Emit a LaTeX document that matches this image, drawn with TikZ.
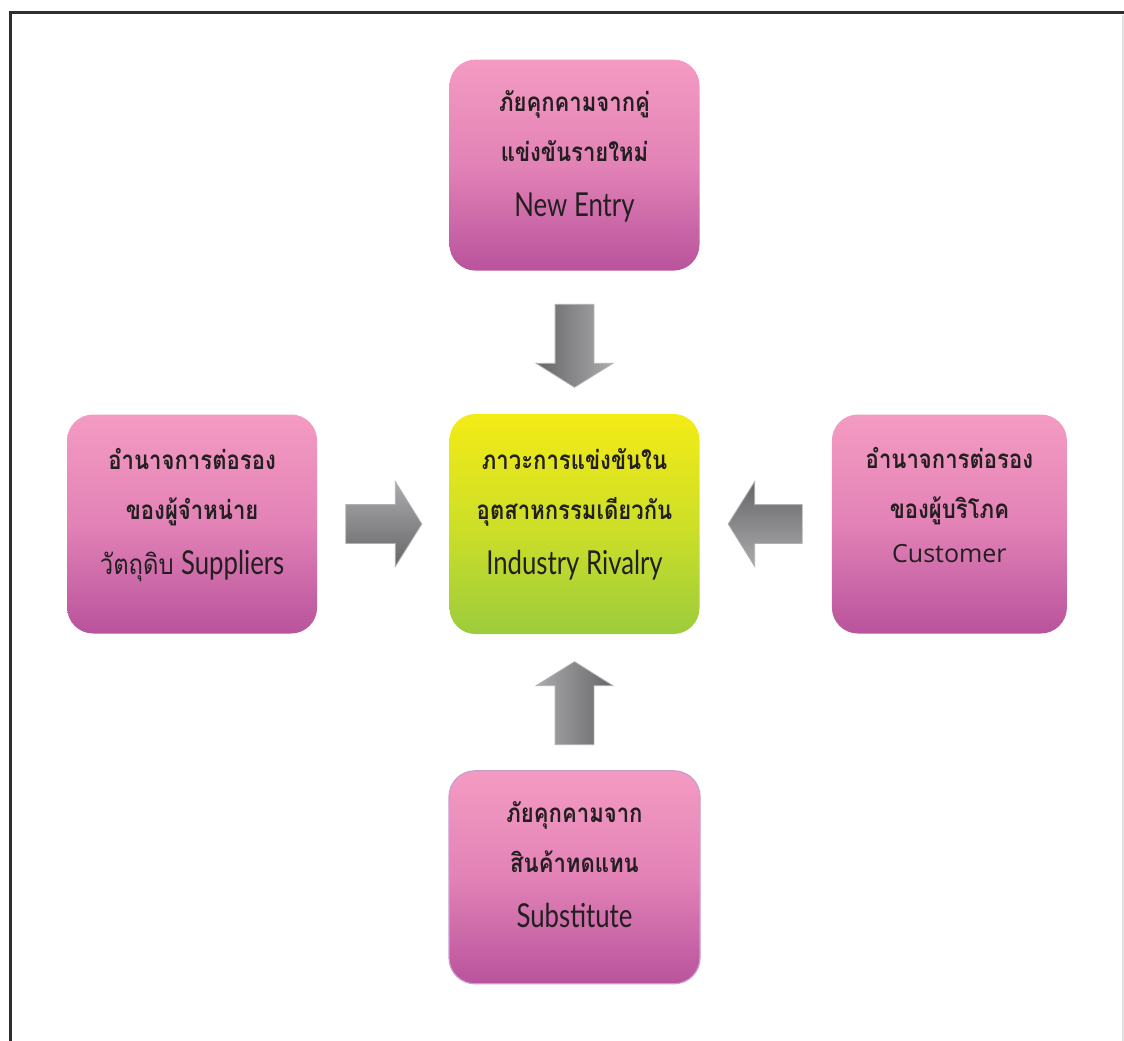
\documentclass[tikz,border=0pt]{standalone}
\usepackage{fontspec}
\newfontfamily\thaifont[Script=Thai, FakeStretch=0.85]{Loma}
\newfontfamily\engfont[FakeStretch=0.78]{Lato}
\newfontfamily\custfont{Open Sans}
\definecolor{forceTop}{rgb}{0.957,0.608,0.761}
\definecolor{forceMid}{rgb}{0.886,0.510,0.714}
\definecolor{forceBottom}{rgb}{0.725,0.325,0.612}
\definecolor{forceEdge}{rgb}{0.780,0.620,0.820}
\definecolor{rivalTop}{rgb}{0.957,0.922,0.086}
\definecolor{rivalMid}{rgb}{0.808,0.875,0.153}
\definecolor{rivalBottom}{rgb}{0.612,0.800,0.235}
\definecolor{arrowDark}{rgb}{0.400,0.400,0.410}
\definecolor{arrowLight}{rgb}{0.670,0.670,0.680}
\definecolor{arrowEdge}{rgb}{0.690,0.690,0.700}
\definecolor{inkText}{rgb}{0.137,0.122,0.125}
\definecolor{frameInk}{rgb}{0.180,0.180,0.180}
\definecolor{frameSide}{rgb}{0.880,0.880,0.880}
\usetikzlibrary{shapes}
\usetikzlibrary{shapes.arrows}
\usetikzlibrary{positioning}
\tikzstyle{force} = [rectangle, rounded corners=26pt, minimum width=250pt, minimum height=219pt,
        top color=forceTop, bottom color=forceBottom, middle color=forceMid,
        align=center, text=inkText, inner sep=0pt, text height=100pt, text depth=0pt,
        font={\thaifont\bfseries\fontsize{26}{50}\selectfont}]
\tikzstyle{rivalry} = [force, top color=rivalTop, bottom color=rivalBottom, middle color=rivalMid]
\tikzstyle{push} = [single arrow, draw=arrowEdge, line width=0.8pt, inner sep=19pt,
        single arrow head extend=19pt, single arrow tip angle=116, minimum height=83pt]
\newcommand{\eng}[1]{{\engfont\mdseries\fontsize{33}{50}\selectfont #1}}

\begin{document}
\begin{tikzpicture}[x=1pt, y=-1pt, node distance=132pt]
    \useasboundingbox (0,0) rectangle (1124,1041);
    \draw[frameSide, line width=1.5pt] (1123,15) -- (1123,1041);
    \draw[frameInk, line width=3pt] (10,1041) -- (10,13) -- (1124,13);

    \node [rivalry, minimum height=220pt] (rival) at (574.5,524)
        {ภาวะการแข่งขันใน\\อุตสาหกรรมเดียวกัน\\[5pt]\eng{Industry Rivalry}};
    \node [force, above=143pt of rival, minimum height=211pt, text height=103pt] (entry)
        {ภัยคุกคามจากคู่\\แข่งขันรายใหม่\\[5pt]\eng{New Entry}};
    \node [force, left=of rival] (supplier)
        {อำนาจการต่อรอง\\ของผู้จำหน่าย\\[5pt]{\mdseries\fontsize{28}{50}\selectfont วัตถุดิบ} \eng{Suppliers}};
    \node [force, right=of rival, minimum width=235pt, text height=76pt] (customer)
        {อำนาจการต่อรอง\\ของผู้บริโภค\\[-6pt]{\custfont\mdseries\fontsize{25}{50}\selectfont Customer}};
    \node [force, below=136pt of rival, minimum width=251pt, minimum height=213pt,
        text height=101pt, draw=forceEdge, line width=1.2pt] (substitute)
        {ภัยคุกคามจาก\\สินค้าทดแทน\\[5pt]\eng{Substitute}};

    \node [push, shape border rotate=270, left color=arrowDark, right color=arrowLight,
        above=26pt of rival, anchor=tip] (pushEntry) {};
    \node [push, shape border rotate=90, left color=arrowLight, right color=arrowDark,
        below=27pt of rival, anchor=tip] (pushSubstitute) {};
    \node [push, single arrow head extend=23pt, minimum height=76pt, top color=arrowLight, bottom color=arrowDark,
        left=27pt of rival, anchor=tip] (pushSupplier) {};
    \node [push, shape border rotate=180, single arrow head extend=23pt, minimum height=74pt,
        top color=arrowDark, bottom color=arrowLight,
        right=28pt of rival, anchor=tip] (pushCustomer) {};
\end{tikzpicture}
\end{document}
